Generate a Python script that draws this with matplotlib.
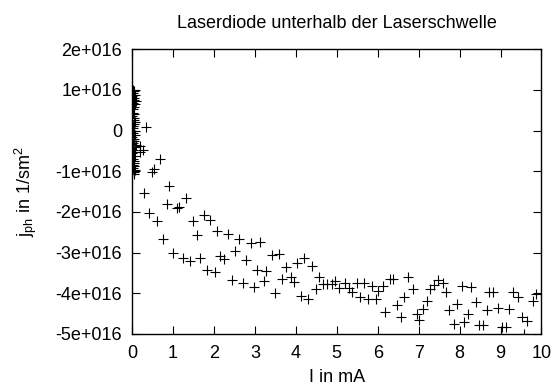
import matplotlib
matplotlib.use("Agg")
import matplotlib.pyplot as plt
import numpy as np

plt.rcParams['font.family'] = ['Liberation Sans', 'DejaVu Sans']

# Messwerte: Strom I in mA, Photonenstromdichte in 1e16 1/sm^2
# Punkte bei sehr kleinem Strom (Rauschen um Null)
i_low = [0.02, 0.05, 0.03, 0.08, 0.01, 0.06, 0.04, 0.09, 0.02, 0.07,
         0.03, 0.05, 0.01, 0.06, 0.04, 0.08, 0.02, 0.05, 0.03, 0.07,
         0.01, 0.04, 0.06, 0.02, 0.09, 0.03, 0.05, 0.01, 0.07, 0.04,
         0.02, 0.06, 0.03, 0.08, 0.01, 0.05, 0.04, 0.02, 0.06, 0.03,
         0.05, 0.02, 0.07, 0.04]
j_low = [1.00, 0.96, 0.92, 0.88, 0.84, 0.80, 0.76, 0.72, 0.68, 0.64,
         0.44, 0.40, 0.35, 0.31, 0.27, 0.22, 0.05, 0.00, -0.05, -0.10,
         -0.15, -0.20, -0.25, -0.30, -0.36, -0.48, -0.52, -0.56, -0.62,
         -0.80, -0.84, -0.88, -0.92, -0.96, -1.00, -1.03, -1.06, -0.70,
         0.58, 0.52, 0.15, 0.10, -0.40, -0.75]

# Punkte oberhalb von ca. 0.2 mA
i_main = [0.354, 0.200, 0.260, 0.195, 0.684, 0.537, 0.481, 0.911, 0.293, 1.326,
          0.855, 1.155, 1.092, 0.415, 0.618, 1.497, 1.758, 1.905, 1.580, 0.764,
          2.083, 2.344, 2.606, 2.899, 3.133, 1.009, 1.253, 1.424, 1.661, 2.149,
          2.247, 2.523, 2.777, 1.839, 2.020, 3.045, 3.272, 2.442, 2.703, 2.979,
          3.223, 3.410, 3.597, 3.761, 3.670, 3.875, 3.963, 3.492, 4.022, 4.208,
          4.403, 4.120, 4.305, 4.493, 4.574, 4.657, 4.769, 4.877, 4.957, 5.055,
          5.201, 5.306, 5.380, 5.487, 5.568, 5.665, 5.756, 5.853, 5.951, 6.015,
          6.122, 6.300, 6.381, 6.186, 6.464, 6.576, 6.654, 6.747, 6.855, 6.952,
          7.009, 7.099, 7.197, 7.277, 7.382, 7.465, 7.587, 7.668, 7.748, 7.863,
          7.944, 8.051, 8.107, 8.212, 8.278, 8.400, 8.470, 8.570, 8.676, 8.725,
          8.823, 8.938, 9.028, 9.133, 9.206, 9.311, 9.433, 9.516, 9.639, 9.573,
          9.785, 9.866]
j_main = [0.086, -0.381, -0.479, -0.520, -0.688, -0.951, -1.012, -1.364, -1.543, -1.666,
          -1.806, -1.872, -1.912, -2.034, -2.231, -2.216, -2.069, -2.206, -2.575, -2.666,
          -2.469, -2.536, -2.658, -2.757, -2.740, -3.010, -3.125, -3.214, -3.125, -3.091,
          -3.150, -2.968, -3.189, -3.435, -3.484, -3.428, -3.445, -3.666, -3.754, -3.838,
          -3.705, -3.059, -3.034, -3.361, -3.656, -3.607, -3.715, -4.000, -3.248, -3.125,
          -3.322, -4.066, -4.147, -3.902, -3.607, -3.771, -3.771, -3.771, -3.690, -3.862,
          -3.740, -3.862, -3.961, -3.754, -4.084, -3.740, -4.147, -3.821, -4.147, -3.936,
          -3.821, -3.656, -3.656, -4.452, -4.287, -4.582, -4.098, -3.592, -3.902, -4.516,
          -4.656, -4.393, -4.182, -3.894, -3.796, -3.673, -3.754, -3.961, -4.410, -4.754,
          -4.263, -3.821, -4.698, -4.509, -3.853, -4.214, -4.780, -4.780, -4.410, -3.961,
          -3.961, -4.369, -4.840, -4.840, -4.393, -3.961, -4.098, -4.575, -4.673, -5.000,
          -4.182, -4.017]

y_ticks = [2, 1, 0, -1, -2, -3, -4, -5]
y_tick_labels = ["2e+016", "1e+016", "0", "-1e+016", "-2e+016",
                 "-3e+016", "-4e+016", "-5e+016"]

fig = plt.figure(figsize=(5.53, 3.87), dpi=100)
ax = fig.add_axes([0.2387, 0.137, 0.7405, 0.736])

i_all = np.array(i_low + i_main)
j_all = np.array(j_low + j_main) * 1e16
ax.plot(i_all, j_all, linestyle="none", marker="+", markersize=6.5,
        markeredgewidth=0.8, color="black", clip_on=True)

ax.set_xlim(0, 10)
ax.set_ylim(-5e16, 2e16)
ax.set_xticks(np.arange(0, 11, 1))
ax.set_yticks([v * 1e16 for v in y_ticks])
ax.set_yticklabels(y_tick_labels)

ax.tick_params(axis="both", which="major", direction="in", length=6, width=0.8,
               top=True, right=True, labelsize=13)
ax.tick_params(axis="x", pad=8)
ax.tick_params(axis="y", pad=7)
for sp in ax.spines.values():
    sp.set_linewidth(1.0)

ax.set_xlabel("I in mA", fontsize=13, labelpad=5)
ax.set_ylabel(r"j$_{\mathregular{ph}}$ in 1/sm$^{\mathregular{2}}$", fontsize=13, labelpad=12)
ax.set_title("Laserdiode unterhalb der Laserschwelle", fontsize=13, pad=15)

fig.savefig("out.png", dpi=100)
